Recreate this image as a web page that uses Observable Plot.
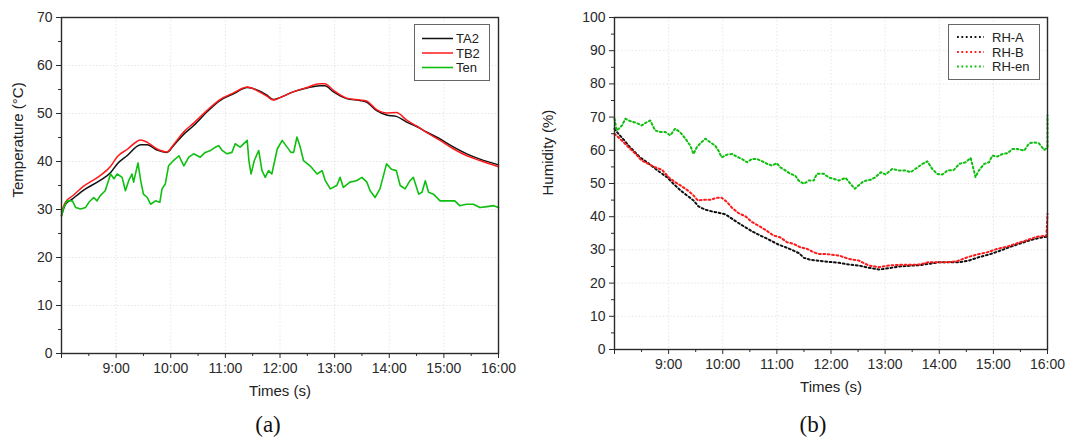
<!DOCTYPE html>
<html>
<head>
<meta charset="utf-8">
<script src="https://cdn.jsdelivr.net/npm/d3@7"></script>
<script src="https://cdn.jsdelivr.net/npm/@observablehq/plot@0.6"></script>
<style>
  body { margin: 0; background: #fff; font-family: "Liberation Sans", Arial, sans-serif; }
  #wrap { position: relative; width: 1070px; height: 437px; overflow: hidden; background: #fff; }
  .panel { position: absolute; top: 0; }
  .cap { position: absolute; font-family: "Liberation Serif", "Times New Roman", serif; font-size: 23px; color: #111; transform: translate(-50%, -50%); }
  .legend { position: absolute; border: 1px solid #666; background: #fff; box-sizing: border-box; }
</style>
</head>
<body>
<div id="wrap"></div>
<script>
// ---------- Panel (a): temperature ----------
const timeAB = [8.0,8.07,8.2,8.4,8.7,8.9,9.02,9.2,9.45,9.57,9.75,9.93,10.05,10.24,10.42,10.66,10.9,11.15,11.4,11.64,11.76,11.88,12.0,12.24,12.49,12.73,12.82,12.98,13.22,13.46,13.58,13.77,13.95,14.13,14.32,14.5,14.69,14.93,15.18,15.42,15.66,16.0];
const TA2 = [28.7,31,32.2,34,36,37.7,39.5,41.2,43.5,43.5,42.4,41.9,43.3,45.7,47.5,50.3,52.7,54.1,55.4,54.6,53.8,52.9,53.3,54.5,55.3,55.8,55.8,54.5,53.1,52.7,52.4,50.6,49.7,49.4,48.2,47.3,46.1,44.7,43,41.6,40.5,39.3];
const TB2 = [29.5,31.5,32.8,34.8,37,39,41,42.5,44.5,44,42.6,42,43.5,46.2,48,50.6,52.9,54.3,55.5,54.4,53.6,52.8,53.3,54.5,55.4,56.2,56.2,54.8,53.2,52.8,52.6,50.8,50.1,50.2,48.6,47.4,46,44.4,42.6,41.2,40.2,38.9];
const timeEn = [8.0,8.04,8.1,8.2,8.26,8.35,8.44,8.5,8.59,8.65,8.71,8.8,8.9,8.96,9.02,9.11,9.17,9.23,9.29,9.32,9.4,9.45,9.5,9.57,9.63,9.72,9.8,9.84,9.9,9.96,10.05,10.15,10.24,10.33,10.42,10.54,10.63,10.73,10.82,10.88,10.94,11.03,11.12,11.18,11.27,11.4,11.43,11.47,11.53,11.61,11.67,11.73,11.79,11.85,11.95,12.04,12.13,12.2,12.25,12.31,12.37,12.43,12.55,12.68,12.77,12.83,12.92,13.04,13.1,13.16,13.28,13.4,13.5,13.59,13.65,13.74,13.83,13.95,14.04,14.13,14.2,14.29,14.38,14.44,14.54,14.6,14.66,14.72,14.81,14.93,15.05,15.2,15.29,15.41,15.54,15.66,15.79,15.91,16.0];
const Ten = [28.7,30.4,31.8,31.8,30.4,30.1,30.4,31.5,32.5,31.8,32.9,33.9,37.4,36.4,37.4,36.7,33.9,36,37.4,35.7,39.7,36,33.2,32.5,31.1,31.8,31.5,34.3,35.3,39.1,40.2,41.2,39.1,40.9,41.6,40.9,41.9,42.3,43,43.3,42.3,41.6,41.9,43.7,43,44.4,40.2,37.4,40.2,42.3,38.1,36.7,38.1,37.4,42.6,44.4,43,41.9,41.9,45.1,43,40.2,39.1,37.4,38.1,36,34.3,35,36.7,34.6,35.7,36,36.7,35.7,33.9,32.5,34.3,39.5,38.4,38.1,35,34.3,36,36.7,33.2,33.6,36,33.6,33.2,31.8,31.8,31.8,30.8,31.1,31.1,30.4,30.6,30.8,30.4];

// ---------- Panel (b): humidity ----------
const timeRA = [8.0,8.07,8.17,8.26,8.35,8.47,8.6,8.72,8.84,8.97,9.09,9.22,9.34,9.46,9.55,9.68,9.8,9.92,10.05,10.17,10.29,10.42,10.54,10.66,10.79,10.91,11.03,11.16,11.28,11.41,11.5,11.62,11.74,11.9,12.15,12.33,12.51,12.7,12.89,13.07,13.26,13.44,13.63,13.81,14.0,14.18,14.37,14.55,14.73,14.92,15.1,15.29,15.47,15.66,15.84,16.0];
const RHA = [66.5,65,63.2,61.4,59.9,57.9,56.4,54.9,53.4,51.9,49.9,47.9,46.4,44.9,43.1,42.1,41.6,41.2,40.7,39.4,38.1,36.8,35.6,34.6,33.6,32.6,31.6,30.8,30,29,27.6,27,26.8,26.5,26.1,25.6,25.3,24.6,24.1,24.5,25,25.2,25.4,25.8,26.3,26.3,26.3,26.8,27.8,28.6,29.6,30.8,31.8,32.8,33.6,34];
const timeRB = [8.0,8.1,8.2,8.29,8.38,8.5,8.63,8.75,8.88,9.0,9.12,9.25,9.37,9.46,9.54,9.65,9.77,9.89,9.98,10.08,10.17,10.29,10.42,10.54,10.66,10.79,10.94,11.06,11.19,11.31,11.43,11.56,11.68,11.77,11.9,12.15,12.33,12.51,12.7,12.89,13.07,13.26,13.44,13.63,13.81,13.96,14.15,14.33,14.52,14.7,14.89,15.07,15.26,15.44,15.63,15.81,15.98,16.0];
const RHB = [65,63.5,61.9,60.4,59.1,56.9,55.9,54.9,54.1,51.9,50.4,49.1,47.7,46.4,44.9,45.1,45.1,45.7,45.7,44.4,42.7,41.1,40.1,38.4,37.3,36,34.3,33.8,32.3,31.8,30.8,30.3,29.3,28.8,28.8,28.3,27.3,26.8,25.3,24.8,25.3,25.5,25.5,25.6,26.3,26.3,26.3,26.6,27.8,28.6,29.3,30.3,31,32,33,34,34.3,40.9];
const timeRen = [8.0,8.04,8.08,8.14,8.2,8.29,8.41,8.5,8.6,8.66,8.75,8.85,8.94,9.03,9.12,9.21,9.31,9.4,9.46,9.52,9.58,9.68,9.77,9.86,9.92,9.98,10.08,10.17,10.26,10.35,10.45,10.54,10.63,10.73,10.82,10.91,11.0,11.06,11.16,11.25,11.34,11.4,11.5,11.59,11.68,11.74,11.87,11.96,12.05,12.15,12.27,12.36,12.44,12.51,12.6,12.73,12.82,12.92,13.01,13.13,13.26,13.38,13.47,13.56,13.69,13.78,13.87,13.96,14.06,14.15,14.27,14.37,14.49,14.58,14.64,14.67,14.73,14.83,14.92,14.98,15.07,15.17,15.26,15.35,15.44,15.57,15.66,15.75,15.84,15.94,16.0,16.0];
const RHen = [69.5,66,66.5,67.5,69.5,68.8,68.2,67.5,68.5,69,66,65.5,65.5,64.5,66.5,65.5,63.5,61.4,58.9,60.9,62,63.5,62.4,61.4,59.9,57.9,58.7,58.9,58.1,57.4,56.4,57.4,57.4,56.7,55.9,55.4,56.1,54.9,53.9,52.9,52.4,50.9,49.9,50.9,50.9,52.9,52.9,51.8,51.4,50.9,51.7,49.9,48.4,49.4,50.7,51.1,51.9,53.4,52.7,54.4,53.9,53.9,53.4,54.4,55.9,56.7,54.4,52.9,52.7,53.9,54.1,55.9,56.4,57.7,53.9,51.9,53.9,55.9,56.4,58.4,58.1,58.9,59.1,60.4,60.4,59.9,62.1,62.4,62.1,60.1,60.9,70.5];

// ---------- ticks ----------
const hourTicks = [8,9,10,11,12,13,14,15,16];
const halfTicks = [8.5,9.5,10.5,11.5,12.5,13.5,14.5,15.5];
const tempTicks = [0,10,20,30,40,50,60,70];
const tempMinor = [5,15,25,35,45,55,65];
const humTicks = [0,10,20,30,40,50,60,70,80,90,100];
const humMinor = [5,15,25,35,45,55,65,75,85,95];
const hourLabel = h => h === 8 ? "" : `${h}:00`;

const zip = (ts, vs) => ts.map((t, i) => ({t, v: vs[i]}));

const FONT = "Liberation Sans, Arial, sans-serif";
const AX = "#2a2a2a";

function panel({width, marginLeft, marginRight, marginBottom, yTicks, yMinor, yDomain, yLabel, series}) {
  return Plot.plot({
    width, height: 410,
    marginLeft, marginRight, marginTop: 17, marginBottom,
    style: {fontFamily: FONT, background: "#fff", overflow: "visible"},
    x: {domain: [8, 16], axis: null},
    y: {domain: yDomain, axis: null},
    marks: [
      Plot.gridX(hourTicks.slice(1, -1), {stroke: "#d4d4d4", strokeOpacity: 0.55, strokeDasharray: "1.5 2"}),
      Plot.gridY(yTicks.slice(1, -1), {stroke: "#d4d4d4", strokeOpacity: 0.55, strokeDasharray: "1.5 2"}),
      ...series.map(s => Plot.line(s.data, {x: "t", y: "v", stroke: s.color, strokeWidth: s.width, strokeDasharray: s.dash, curve: s.curve || "linear"})),
      Plot.frame({stroke: AX, strokeWidth: 1.4}),
      Plot.axisY(yTicks, {tickSize: 5, tickPadding: 4, fontSize: 14, color: AX, label: null}),
      Plot.axisY(yMinor, {tickSize: 3, tickFormat: () => "", color: AX, label: null}),
      Plot.axisX(hourTicks, {tickSize: 5, tickPadding: 5, fontSize: 14, color: AX, tickFormat: hourLabel, label: null}),
      Plot.axisX(halfTicks, {tickSize: 3, tickFormat: () => "", color: AX, label: null}),
      Plot.text(["Times (s)"], {frameAnchor: "bottom", dy: 42, text: d => d, fontSize: 15, fill: "#222"}),
      Plot.text([yLabel], {frameAnchor: "left", dx: -marginLeft + 18, dy: 12, rotate: -90, text: d => d, fontSize: 15, fill: "#222"})
    ]
  });
}

const wrap = document.getElementById("wrap");

function addPanel(left, svg, capText, capX) {
  const div = document.createElement("div");
  div.className = "panel";
  div.style.left = left + "px";
  div.appendChild(svg);
  wrap.appendChild(div);
  const cap = document.createElement("div");
  cap.className = "cap";
  cap.textContent = capText;
  cap.style.left = capX + "px";
  cap.style.top = "425px";
  wrap.appendChild(cap);
}

function addLegend({left, top, width, height, rows, lineX0, lineX1, textX, items}) {
  const div = document.createElement("div");
  div.className = "legend";
  Object.assign(div.style, {left: left + "px", top: top + "px", width: width + "px", height: height + "px"});
  const svg = d3.create("svg").attr("width", width - 2).attr("height", height - 2).style("display", "block");
  items.forEach((it, i) => {
    svg.append("line").attr("x1", lineX0).attr("x2", lineX1).attr("y1", rows[i]).attr("y2", rows[i])
      .attr("stroke", it.color).attr("stroke-width", it.width).attr("stroke-dasharray", it.dash || null);
    svg.append("text").attr("x", textX).attr("y", rows[i]).attr("dy", "0.35em")
      .attr("font-family", FONT).attr("font-size", 13).attr("fill", "#222").text(it.name);
  });
  div.appendChild(svg.node());
  wrap.appendChild(div);
}

const tempSeries = [
  {name: "TA2", data: zip(timeAB, TA2), color: "#111", width: 1.5, curve: "monotone-x"},
  {name: "TB2", data: zip(timeAB, TB2), color: "#ff1a1a", width: 1.5, curve: "monotone-x"},
  {name: "Ten", data: zip(timeEn, Ten), color: "#0fbf0f", width: 1.6}
];
const humSeries = [
  {name: "RH-A", data: zip(timeRA, RHA), color: "#111", width: 2, dash: "1.8 2.6"},
  {name: "RH-B", data: zip(timeRB, RHB), color: "#ff1a1a", width: 2, dash: "1.8 2.6"},
  {name: "RH-en", data: zip(timeRen, RHen), color: "#0fbf0f", width: 2, dash: "1.8 2.6"}
];

addPanel(0, panel({width: 530, marginLeft: 61, marginRight: 32, marginBottom: 57,
  yTicks: tempTicks, yMinor: tempMinor, yDomain: [0, 70], yLabel: "Temperature (°C)", series: tempSeries}), "(a)", 268);
addPanel(530, panel({width: 540, marginLeft: 84, marginRight: 23, marginBottom: 61,
  yTicks: humTicks, yMinor: humMinor, yDomain: [0, 100], yLabel: "Humidity (%)", series: humSeries}), "(b)", 813);

addLegend({left: 414, top: 24, width: 76, height: 57, rows: [13.5, 28, 42.5], lineX0: 7, lineX1: 38, textX: 41,
  items: tempSeries});
addLegend({left: 948, top: 24, width: 92, height: 56, rows: [12, 27, 41.5], lineX0: 8, lineX1: 35, textX: 43,
  items: humSeries});
</script>
</body>
</html>
